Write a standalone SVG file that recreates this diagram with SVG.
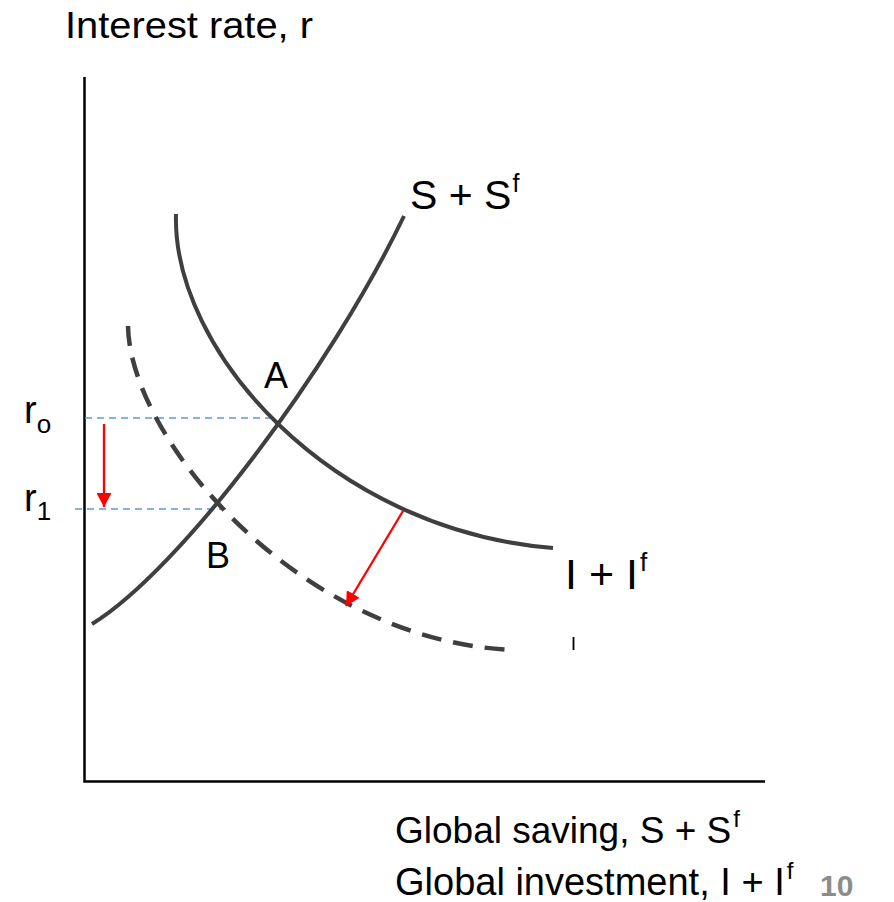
<svg xmlns="http://www.w3.org/2000/svg" width="894" height="902" viewBox="0 0 894 902">
<style>
text{font-family:"Liberation Sans",Arial,sans-serif;fill:#000}
.axis{stroke:#000;stroke-width:2.5;fill:none}
.curve{stroke:#3f3f3f;stroke-width:4;fill:none}
.dash{stroke-dasharray:20 12;stroke-width:4.5}
.guide{stroke:#5b9bd5;stroke-width:1.5;stroke-dasharray:7 5;fill:none}
.shift{stroke:#ff0000;stroke-width:2.3;fill:none;marker-end:url(#ah)}
.lbl{font-size:38px}
</style>
<defs>
<marker id="ah" viewBox="0 0 10 10" refX="10" refY="5" markerUnits="userSpaceOnUse" markerWidth="14" markerHeight="15" preserveAspectRatio="none" orient="auto">
<path d="M0,0 L10,5 L0,10 z" fill="#ff0000"/>
</marker>
</defs>
<rect width="894" height="902" fill="#fff"/>
<g id="axes">
<path class="axis" d="M84.5,77 V781.5 H765"/>
<text x="65" y="38" font-size="37" textLength="248" lengthAdjust="spacingAndGlyphs">Interest rate, r</text>
<text x="395" y="843" font-size="37">Global saving, S + S<tspan font-size="24" dy="-16" dx="2">f</tspan></text>
<text x="395" y="895" font-size="38">Global investment, I + I<tspan font-size="24" dy="-16" dx="2">f</tspan></text>
<text x="820" y="896" font-size="30" font-weight="bold" style="fill:#8c8c8c">10</text>
</g>
<g id="guides">
<path class="guide" d="M85,418 H272"/>
<path class="guide" d="M75,509 H231"/>
<text x="24" y="423" class="lbl">r<tspan font-size="26" dy="10">o</tspan></text>
<text x="24" y="511" class="lbl">r<tspan font-size="26" dy="9">1</tspan></text>
</g>
<g id="supply">
<path class="curve" d="M92,624 C180,570 330,370 404,216"/>
<text x="410" y="209" font-size="41">S + S<tspan font-size="25" dy="-17" dx="1">f</tspan></text>
</g>
<g id="investment">
<path class="curve" d="M176,214 C172,350 330,530 553,548"/>
<text x="565" y="589" font-size="43">I + I<tspan font-size="26" dy="-18" dx="2">f</tspan></text>
</g>
<g id="investment-new">
<path class="curve dash" d="M128,326 C130,440 300,640 512,650"/>
<line x1="573.5" y1="637" x2="573.5" y2="650" stroke="#000" stroke-width="1.8"/>
</g>
<g id="pointA"><text x="264" y="388" font-size="36">A</text></g>
<g id="pointB"><text x="206" y="568" font-size="36">B</text></g>
<g id="connectors">
<line class="shift" x1="104" y1="424" x2="104" y2="507"/>
<line class="shift" x1="403" y1="511" x2="346" y2="606"/>
</g>
</svg>
